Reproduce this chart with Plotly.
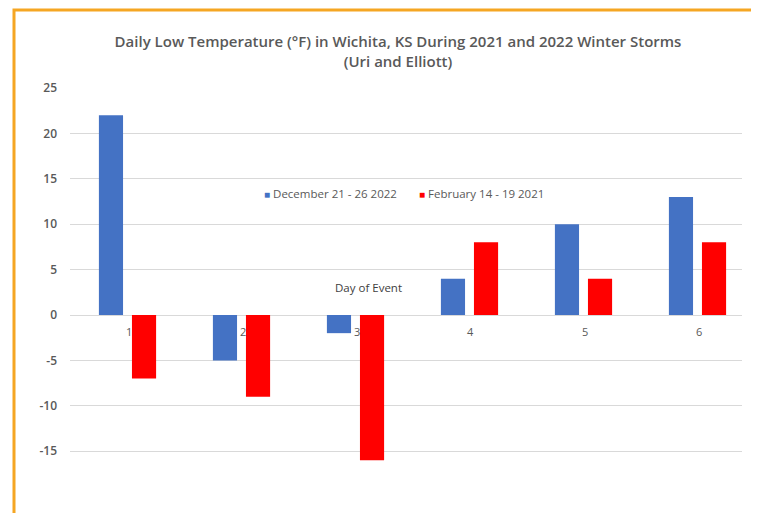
import plotly.graph_objects as go

days = [1, 2, 3, 4, 5, 6]
day_labels = ["1", "2", "3", "4", "5", "6"]
dec_2022 = [22, -5, -2, 4, 10, 13]
feb_2021 = [-7, -9, -16, 8, 4, 8]
y_ticks = [-15, -10, -5, 0, 5, 10, 15, 20, 25]
y_tick_text = ["-15", "-10", "-5", "0", "5", "10", "15", "20", "25"]
series_names = ["December 21 - 26 2022", "February 14 - 19 2021"]
series_colors = ["#4472C4", "#FF0000"]

OFF = 8  # page body margin
W, H = 759 - OFF, 513 - OFF
L = 70 - OFF
R = W - (742 - OFF)
T = 88 - OFF
B = 0
pw, ph = W - L - R, H - T - B


def px_x(x):
    return (x - OFF - L) / pw


def px_y(y):
    return (H - (y - OFF)) / ph


grey = "#595959"
font = "Open Sans"

fig = go.Figure()
fig.add_trace(go.Bar(x=days, y=dec_2022, name=series_names[0],
                     marker=dict(color=series_colors[0], line=dict(width=0))))
fig.add_trace(go.Bar(x=days, y=feb_2021, name=series_names[1],
                     marker=dict(color=series_colors[1], line=dict(width=0))))

cat_px = 114.0
x_lo = 0.5 - 0.5 / cat_px
x_hi = x_lo + pw / cat_px
px_per_unit = (315 - 88) / 25.0
y_hi = 25
y_lo = y_hi - ph / px_per_unit

annotations = []
for d, lab in zip(days, day_labels):
    annotations.append(dict(x=d, y=0, xref="x", yref="y", text=lab, showarrow=False,
                            yshift=-16, xshift=1, font=dict(family=font, size=11, color=grey)))
annotations.append(dict(x=px_x(368), y=px_y(287), xref="paper", yref="paper",
                        text="Day of Event", showarrow=False,
                        font=dict(family=font, size=11.5, color="#404040")))
for name, col, xpos in zip(series_names, series_colors, [262, 417]):
    annotations.append(dict(x=px_x(xpos), y=px_y(193), xref="paper", yref="paper",
                            xanchor="left", yanchor="middle", showarrow=False,
                            text=f"<span style='color:{col};font-size:10px'>■</span> {name}",
                            font=dict(family=font, size=11.5, color=grey)))

fig.update_layout(
    width=W, height=H,
    margin=dict(l=L, r=R, t=T, b=B, autoexpand=False),
    paper_bgcolor="white", plot_bgcolor="white",
    barmode="group", bargap=0.42, bargroupgap=0.27,
    title=dict(text="Daily Low Temperature (°F) in Wichita, KS During 2021 and 2022 Winter Storms<br>(Uri and Elliott)",
               x=px_x(398), xref="paper", xanchor="center",
               y=1 - (47 - OFF) / H, yref="container", yanchor="middle",
               font=dict(family=font, size=15, color=grey, weight=600)),
    xaxis=dict(range=[x_lo, x_hi], showgrid=False, zeroline=False, showticklabels=False,
               showline=False, ticks=""),
    yaxis=dict(range=[y_lo, y_hi], tickvals=y_ticks, ticktext=y_tick_text,
               showgrid=True, gridcolor="#D9D9D9",
               gridwidth=1, zeroline=True, zerolinecolor="#D9D9D9", zerolinewidth=1,
               showline=False, ticks="", ticklabelstandoff=12,
               tickfont=dict(family=font, size=12, color=grey, weight=600)),
    showlegend=False,
    annotations=annotations,
    shapes=[dict(type="rect", xref="paper", yref="paper",
                 x0=px_x(14), x1=px_x(755),
                 y0=-0.05, y1=px_y(10),
                 line=dict(color="#F5A623", width=3), fillcolor="rgba(0,0,0,0)",
                 layer="above")],
)

fig.write_html("out.html")
